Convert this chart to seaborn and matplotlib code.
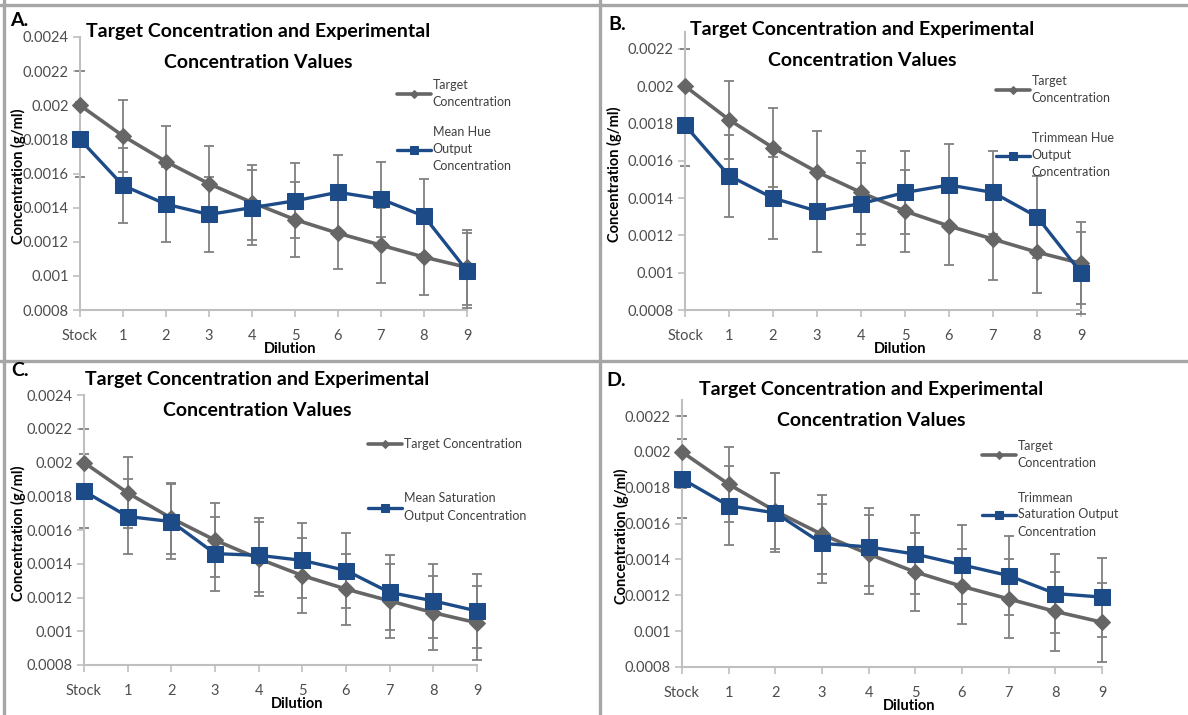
import matplotlib
matplotlib.use("Agg")
import matplotlib.pyplot as plt
from matplotlib.lines import Line2D
from matplotlib.ticker import FuncFormatter
import numpy as np
import seaborn as sns

# x categories shared by every panel
dilutions = ["Stock", "1", "2", "3", "4", "5", "6", "7", "8", "9"]

target_conc = [0.002, 0.00182, 0.00167, 0.00154, 0.00143, 0.00133, 0.00125, 0.00118, 0.00111, 0.00105]
target_err = [0.0002, 0.00021, 0.00021, 0.00022, 0.00022, 0.00022, 0.00021, 0.00022, 0.00022, 0.00022]

mean_hue = [0.0018, 0.00153, 0.00142, 0.00136, 0.0014, 0.00144, 0.00149, 0.00145, 0.00135, 0.00103]
mean_hue_err = [0.00022, 0.00022, 0.00022, 0.00022, 0.00022, 0.00022, 0.00022, 0.00022, 0.00022, 0.00022]

trimmean_hue = [0.00179, 0.00152, 0.0014, 0.00133, 0.00137, 0.00143, 0.00147, 0.00143, 0.0013, 0.001]
trimmean_hue_err = [0.00022, 0.00022, 0.00022, 0.00022, 0.00022, 0.00022, 0.00022, 0.00022, 0.00022, 0.00022]

mean_sat = [0.00183, 0.00168, 0.00165, 0.00146, 0.00145, 0.00142, 0.00136, 0.00123, 0.00118, 0.00112]
mean_sat_err = [0.00022, 0.00022, 0.00022, 0.00022, 0.00022, 0.00022, 0.00022, 0.00022, 0.00022, 0.00022]

trimmean_sat = [0.00185, 0.0017, 0.00166, 0.00149, 0.00147, 0.00143, 0.00137, 0.00131, 0.00121, 0.00119]
trimmean_sat_err = [0.00022, 0.00022, 0.00022, 0.00022, 0.00022, 0.00022, 0.00022, 0.00022, 0.00022, 0.00022]

panel_letters = ["A.", "B.", "C.", "D."]
target_labels = ["Target\nConcentration", "Target\nConcentration",
                 "Target Concentration", "Target\nConcentration"]
output_labels = ["Mean Hue\nOutput\nConcentration",
                 "Trimmean Hue\nOutput\nConcentration",
                 "Mean Saturation\nOutput Concentration",
                 "Trimmean\nSaturation Output\nConcentration"]
output_values = [mean_hue, trimmean_hue, mean_sat, trimmean_sat]
output_errs = [mean_hue_err, trimmean_hue_err, mean_sat_err, trimmean_sat_err]
y_tops = [0.0024, 0.00229, 0.0024, 0.00229]
y_tick_max = [0.0024, 0.0022, 0.0024, 0.0022]

W, H = 1188, 715
# pixel boxes (left, right, top, bottom) of each plot area
boxes = [(80, 467, 37, 310), (685, 1081, 32, 310), (84, 477, 395, 665), (682, 1102, 400, 667)]
title_pos = [(258, 32), (862, 30), (257, 380), (871, 390)]
letter_pos = [(10, 21), (608, 24), (11, 370), (606, 381)]
ylabel_x = [18, 614, 18, 621]
xlabel_y = [349, 349, 704, 706]
legend_anchor = [(397, 79), (996, 75), (368, 438), (982, 440)]
legend_spacing = [1.45, 2.25, 3.4, 1.8]

GRAY = "#666666"
BLUE = "#1d4b87"
ERR = "#808080"
AXIS = "#bfbfbf"
TICK_TXT = "#4d4d4d"

sns.set_theme(style="white")
plt.rcParams["font.family"] = ["Lato", "DejaVu Sans"]


def fx(px):
    return px / W


def fy(py):
    return 1 - py / H


fig = plt.figure(figsize=(W / 100, H / 100), dpi=100)
fig.patch.set_facecolor("white")

x_pos = np.arange(len(dilutions))

for i in range(4):
    left, right, top, bottom = boxes[i]
    ax = fig.add_axes([fx(left), fy(bottom), (right - left) / W, (bottom - top) / H])
    ax.set_facecolor("none")

    ax.errorbar(x_pos, target_conc, yerr=target_err, fmt="none", ecolor=ERR,
                elinewidth=1.3, capsize=3.5, capthick=1.3, zorder=1, clip_on=False)
    ax.errorbar(x_pos, output_values[i], yerr=output_errs[i], fmt="none", ecolor=ERR,
                elinewidth=1.3, capsize=3.5, capthick=1.3, zorder=1, clip_on=False)

    sns.lineplot(x=x_pos, y=target_conc, ax=ax, color=GRAY, linewidth=2.6,
                 marker="D", markersize=8, markeredgecolor=GRAY,
                 label=target_labels[i], clip_on=False, zorder=3)
    sns.lineplot(x=x_pos, y=output_values[i], ax=ax, color=BLUE, linewidth=2.4,
                 marker="s", markersize=11, markeredgecolor=BLUE,
                 label=output_labels[i], clip_on=False, zorder=4)

    ax.set_xlim(0, 9)
    ax.set_ylim(0.0008, y_tops[i])
    ax.set_yticks(np.arange(0.0008, y_tick_max[i] + 1e-6, 0.0002))
    ax.yaxis.set_major_formatter(FuncFormatter(lambda v, _: f"{v:g}"))
    ax.set_xticks(x_pos)
    ax.set_xticklabels(dilutions)
    ax.set_xlabel("")
    ax.set_ylabel("")

    for side in ["top", "right"]:
        ax.spines[side].set_visible(False)
    for side in ["left", "bottom"]:
        ax.spines[side].set_color(AXIS)
        ax.spines[side].set_linewidth(1.5)
    ax.tick_params(axis="both", which="major", direction="out", length=5, width=1.2,
                   color=AXIS, labelcolor=TICK_TXT, labelsize=10.5, pad=3,
                   left=True, bottom=True)
    ax.tick_params(axis="x", pad=9)

    handles, labels = ax.get_legend_handles_labels()
    lx, ly = legend_anchor[i]
    leg = ax.legend(handles, labels, loc="upper left", bbox_to_anchor=(fx(lx), fy(ly)),
                    bbox_transform=fig.transFigure, frameon=False,
                    prop={"size": 9},
                    handlelength=2.7, handletextpad=0.15, labelspacing=legend_spacing[i],
                    borderpad=0, borderaxespad=0, markerscale=0.55)
    for t in leg.get_texts():
        t.set_color("#404040")
        t.set_linespacing(1.5)

    tx, ty = title_pos[i]
    fig.text(fx(tx), fy(ty), "Target Concentration and Experimental", ha="center",
             va="center", fontsize=14, fontweight="bold", color="black")
    fig.text(fx(tx), fy(ty + 30), "Concentration Values", ha="center",
             va="center", fontsize=14, fontweight="bold", color="black")

    lx, ly = letter_pos[i]
    fig.text(fx(lx), fy(ly), panel_letters[i], ha="left", va="center",
             fontsize=14, fontweight="bold", color="black")

    fig.text(fx(ylabel_x[i]), fy((top + bottom) / 2 + 3), "Concentration (g/ml)",
             rotation=90, ha="center", va="center", fontsize=10.5,
             fontweight="bold", color="black")
    fig.text(fx((left + right) / 2 + 17), fy(xlabel_y[i]), "Dilution", ha="center",
             va="center", fontsize=10.5, fontweight="bold", color="black")

# panel frames
frame_kw = dict(transform=fig.transFigure, color="#a6a6a6", linewidth=2.4)
fig.add_artist(Line2D([0, 1], [fy(5), fy(5)], **frame_kw))
fig.add_artist(Line2D([fx(4), fx(4)], [0, 1], **frame_kw))
fig.add_artist(Line2D([0, 1], [fy(361), fy(361)], **frame_kw))
fig.add_artist(Line2D([fx(600), fx(600)], [0, 1], **frame_kw))

fig.savefig("out.png", dpi=100, facecolor="white")
